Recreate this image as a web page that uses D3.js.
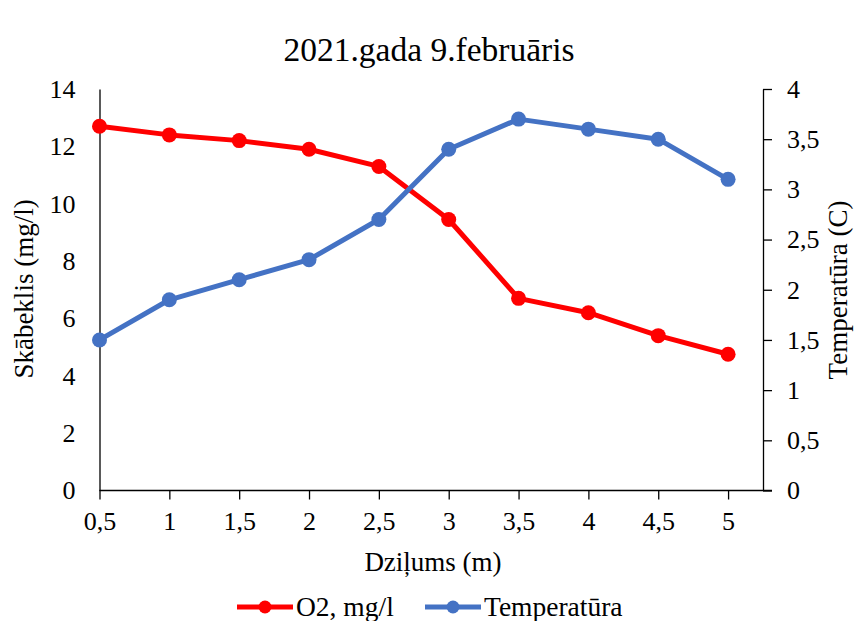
<!DOCTYPE html>
<html>
<head>
<meta charset="utf-8">
<script src="https://cdn.jsdelivr.net/npm/d3@7"></script>
<style>
  body { margin: 0; background: #fff; }
  text { font-family: "Liberation Serif", "Times New Roman", serif; fill: #000; }
</style>
</head>
<body>
<div id="chart"></div>
<script>
// data
const depths = ['0,5', '1', '1,5', '2', '2,5', '3', '3,5', '4', '4,5', '5'];
const o2 = [12.7, 12.4, 12.2, 11.9, 11.3, 9.45, 6.7, 6.2, 5.4, 4.75];
const temp = [1.5, 1.9, 2.1, 2.3, 2.7, 3.4, 3.7, 3.6, 3.5, 3.1];
const leftTicks = [0, 2, 4, 6, 8, 10, 12, 14];
const rightTicks = [0, 0.5, 1, 1.5, 2, 2.5, 3, 3.5, 4];

const W = 854, H = 621;
const margin = {t: 89, r: 91, b: 130.5, l: 99.5};
const width = W - margin.l - margin.r;
const height = H - margin.t - margin.b;

const svg = d3.select('#chart').append('svg').attr('width', W).attr('height', H);
const g = svg.append('g').attr('transform', `translate(${margin.l},${margin.t})`);

// scales
const x = d3.scaleLinear([0, depths.length - 0.5], [0, width]);
const yL = d3.scaleLinear([0, 14], [height, 0]);
const yR = d3.scaleLinear([0, 4], [height, 0]);
const fmt = d => String(d).replace('.', ',');

// left axis, no ticks
g.append('g').attr('class', 'y-left')
  .call(d3.axisLeft(yL).tickValues(leftTicks).tickSize(0).tickPadding(24))
  .call(a => a.select('.domain').attr('stroke', '#000').attr('stroke-width', 1.3))
  .call(a => a.selectAll('text').style('font-size', '26px'));

// right axis, outward ticks
g.append('g').attr('class', 'y-right').attr('transform', `translate(${width},0)`)
  .call(d3.axisRight(yR).tickValues(rightTicks).tickFormat(fmt).tickSize(9).tickSizeOuter(0).tickPadding(15))
  .call(a => a.selectAll('.domain, line').attr('stroke', '#000').attr('stroke-width', 1.3))
  .call(a => a.selectAll('text').style('font-size', '26px'));

// x axis
g.append('g').attr('class', 'x-axis').attr('transform', `translate(0,${height})`)
  .call(d3.axisBottom(x).tickValues(d3.range(depths.length)).tickFormat(i => depths[i]).tickSize(9).tickSizeOuter(0).tickPadding(12))
  .call(a => a.select('.domain').attr('d', `M0,0H${width + 9}`).attr('stroke', '#000').attr('stroke-width', 1.3))
  .call(a => a.selectAll('line').attr('stroke', '#000').attr('stroke-width', 1.3))
  .call(a => a.selectAll('text').style('font-size', '26px'));

// lines
const series = [
  {name: 'O2, mg/l', values: o2, y: yL, color: '#FF0000'},
  {name: 'Temperatūra', values: temp, y: yR, color: '#4472C4'}
];

series.forEach(s => {
  const line = d3.line().x((d, i) => x(i)).y(d => s.y(d));
  g.append('path').attr('d', line(s.values))
    .attr('fill', 'none').attr('stroke', s.color).attr('stroke-width', 5)
    .attr('stroke-linejoin', 'round');
  g.append('g').selectAll('circle').data(s.values).join('circle')
    .attr('cx', (d, i) => x(i)).attr('cy', d => s.y(d)).attr('r', 7.5)
    .attr('fill', s.color);
});

// titles
svg.append('text').attr('x', 429).attr('y', 61).attr('text-anchor', 'middle')
  .style('font-size', '33.5px').text('2021.gada 9.februāris');
svg.append('text').attr('x', 433).attr('y', 571).attr('text-anchor', 'middle')
  .style('font-size', '27px').text('Dziļums (m)');
svg.append('text').attr('transform', 'translate(33,289) rotate(-90)').attr('text-anchor', 'middle')
  .style('font-size', '27px').text('Skābeklis (mg/l)');
svg.append('text').attr('transform', 'translate(847,290) rotate(-90)').attr('text-anchor', 'middle')
  .style('font-size', '27px').text('Temperatūra (C)');

// legend
const legend = svg.append('g').attr('class', 'legend');
const legendX = [237, 425];
series.forEach((s, i) => {
  const lg = legend.append('g').attr('transform', `translate(${legendX[i]},607)`);
  lg.append('line').attr('x1', 0).attr('x2', 56).attr('stroke', s.color).attr('stroke-width', 5);
  lg.append('circle').attr('cx', 28).attr('r', 6.5).attr('fill', s.color);
  lg.append('text').attr('x', 59).attr('y', 9).style('font-size', '27.5px').text(s.name);
});
</script>
</body>
</html>
